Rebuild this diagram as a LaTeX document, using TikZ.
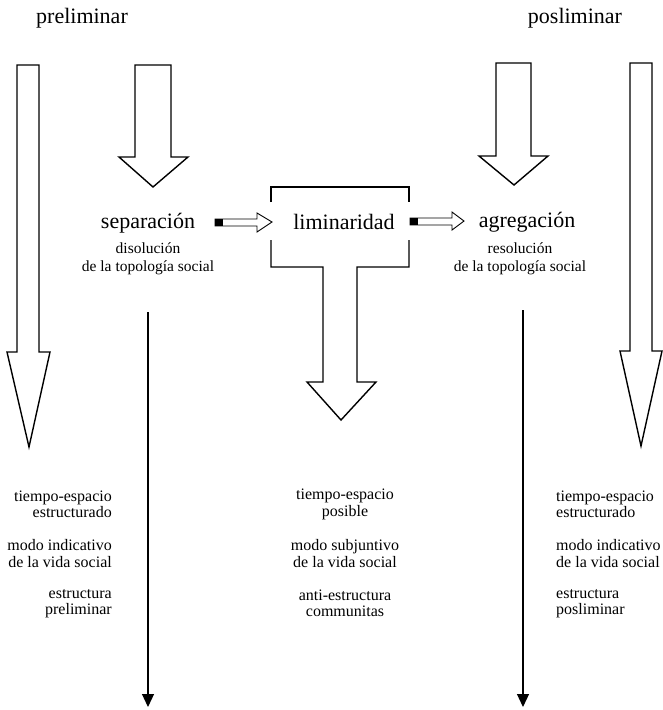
\documentclass[tikz,border=0pt]{standalone}
\usepackage{fontspec}
\setmainfont{Liberation Serif}
\usetikzlibrary{arrows.meta}
\begin{document}
\begin{tikzpicture}[x=1pt,y=-1pt,
  bigarrow/.style={draw=black, line width=1.4pt, fill=white, line join=miter},
  smallarrow/.style={draw=black, line width=0.9pt, fill=white},
  thinarrow/.style={line width=1.2pt, -{Triangle[width=12pt,length=13pt]}},
  title/.style={font=\fontsize{22}{26}\selectfont, inner sep=0pt},
  sub/.style={font=\fontsize{15.5}{18}\selectfont, align=center, inner sep=0pt},
  blk/.style={font=\fontsize{16}{16.5}\selectfont, inner sep=0pt}]
\useasboundingbox (0,0) rectangle (663,710);

% top labels
\node[title] (pre) at (82,18) {preliminar};
\node[title] (pos) at (575,18) {posliminar};

% left tall arrow
\draw[bigarrow] (17,65) -- (39,65) -- (39,352) -- (50,352) -- (29,447) -- (7,352) -- (17,352) -- cycle;
% separacion arrow
\draw[bigarrow] (135,65) -- (171,65) -- (171,157) -- (188,157) -- (153,187) -- (119,157) -- (135,157) -- cycle;
% agregacion arrow
\draw[bigarrow] (496,63) -- (531,63) -- (531,156) -- (548,156) -- (514,185) -- (479,156) -- (496,156) -- cycle;
% right tall arrow
\draw[bigarrow] (630,63) -- (652,63) -- (652,351) -- (662,351) -- (641,446) -- (620,351) -- (630,351) -- cycle;

% liminaridad box with stem arrow
\draw[bigarrow, fill=none] (271,202) -- (271,187) -- (409,187) -- (409,202);
\draw[bigarrow] (271,240) -- (271,267) -- (323,267) -- (323,382) -- (307,382) -- (341,420) -- (376,382) -- (357,382) -- (357,267) -- (409,267) -- (409,240);

% main labels
\node[title] (sep) at (148,223) {separación};
\node[title] (lim) at (344,222) {liminaridad};
\node[title] (agr) at (527,222) {agregación};

% small arrows
\draw[smallarrow] (215,219) -- (257,219) -- (257,213) -- (272,222) -- (257,232) -- (257,226) -- (215,226) -- cycle;
\fill (215,219) rectangle (223,226);
\draw[smallarrow] (410,218) -- (452,218) -- (452,212) -- (464,221) -- (452,230) -- (452,225) -- (410,225) -- cycle;
\fill (410,218) rectangle (418,225);

% sub labels
\node[sub] (dis) at (148,259) {disolución\\de la topología social};
\node[sub] (res) at (520,259) {resolución\\de la topología social};

% long thin arrows
\coordinate (sA) at (148,312);
\coordinate (eA) at (148,707);
\coordinate (sB) at (523,310);
\coordinate (eB) at (523,707);
\draw[thinarrow] (sA) -- (eA);
\draw[thinarrow] (sB) -- (eB);

% bottom left block
\node[blk, align=right, anchor=east] (l1) at (112,504.5) {tiempo-espacio\\estructurado};
\node[blk, align=right, anchor=east] (l2) at (112,553.5) {modo indicativo\\de la vida social};
\node[blk, align=right, anchor=east] (l3) at (112,603.5) {estructura\\preliminar};
% bottom middle block
\node[blk, align=center] (m1) at (345,504.5) {tiempo-espacio\\posible};
\node[blk, align=center] (m2) at (345,553.5) {modo subjuntivo\\de la vida social};
\node[blk, align=center] (m3) at (345,603.5) {anti-estructura\\communitas};
% bottom right block
\node[blk, align=left, anchor=west] (r1) at (556,504.5) {tiempo-espacio\\estructurado};
\node[blk, align=left, anchor=west] (r2) at (556,553.5) {modo indicativo\\de la vida social};
\node[blk, align=left, anchor=west] (r3) at (556,603.5) {estructura\\posliminar};
\end{tikzpicture}
\end{document}
